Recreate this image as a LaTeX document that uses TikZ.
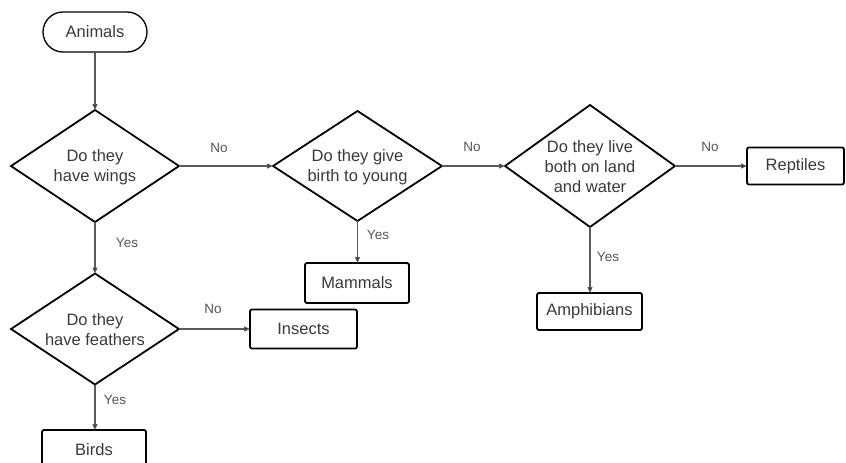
\documentclass[tikz,border=0pt]{standalone}
\usepackage{fontspec}
\setmainfont{Liberation Sans}
\usetikzlibrary{shapes.geometric,arrows.meta}
\definecolor{txt}{HTML}{3A3A3A}
\definecolor{lbl}{HTML}{555555}
\definecolor{conn}{HTML}{5A5A5A}
\begin{document}
\begin{tikzpicture}[x=1pt,y=-1pt,
  every node/.style={inner sep=0pt, outer sep=0pt},
  maintext/.style={font=\fontsize{16.5}{20}\selectfont, text=txt, align=center},
  lbltext/.style={font=\fontsize{13.5}{16}\selectfont, text=lbl},
  startbox/.style={draw=black, line width=1.3pt, rounded corners=20pt, fill=white,
    minimum width=104pt, minimum height=40pt, maintext},
  decision/.style={diamond, draw=black, line width=1.8pt, fill=white},
  leafbox/.style={draw=black, line width=1.8pt, rounded corners=2pt, fill=white, maintext},
  conn/.style={draw=conn, line width=1.2pt, -{Triangle[length=6pt,width=5pt,fill=black]}}
]
\useasboundingbox[fill=white] (0,0) rectangle (846,463);

% start
\node[startbox] (animals) at (95,32) {Animals};

% decisions (shapes)
\node[decision, minimum width=168pt, minimum height=112pt] (d1) at (95,166) {};
\node[decision, minimum width=169pt, minimum height=110pt] (d2) at (357.5,166) {};
\node[decision, minimum width=170pt, minimum height=122pt] (d3) at (590,166) {};
\node[decision, minimum width=168pt, minimum height=111pt] (d4) at (95,329) {};

% decision texts
\node[maintext] (d1t) at (95,167) {Do they\\have wings};
\node[maintext] (d2t) at (357.5,167) {Do they give\\birth to young};
\node[maintext] (d3t) at (590,167) {Do they live\\both on land\\and water};
\node[maintext] (d4t) at (95,330) {Do they\\have feathers};

% leaves
\node[leafbox, minimum width=104pt, minimum height=40pt] (mammals) at (357,283) {Mammals};
\node[leafbox, minimum width=105pt, minimum height=37pt] (amphib) at (589.5,311.5) {Amphibians};
\node[leafbox, minimum width=97pt, minimum height=37pt] (reptiles) at (795.5,166) {Reptiles};
\node[leafbox, minimum width=107pt, minimum height=39pt] (insects) at (303.5,329) {Insects};
\node[leafbox, minimum width=104pt, minimum height=40pt] (birds) at (94,450) {Birds};

% connectors
\draw[conn] (animals.south) -- (d1.north);
\draw[conn] (d1.east) -- (d2.west);
\draw[conn] (d2.east) -- (d3.west);
\draw[conn] (d3.east) -- (reptiles.west);
\draw[conn] (d1.south) -- (d4.north);
\draw[conn] (d2.south) -- (mammals.north -| d2.south);
\draw[conn] (d3.south) -- (amphib.north -| d3.south);
\draw[conn] (d4.east) -- (insects.west);
\draw[conn] (d4.south) -- (birds.north -| d4.south);

% labels
\node[lbltext] (l1) at (219,148) {No};
\node[lbltext] (l2) at (472,147) {No};
\node[lbltext] (l3) at (710,147) {No};
\node[lbltext] (l4) at (213,309) {No};
\node[lbltext] (l5) at (127,243) {Yes};
\node[lbltext] (l6) at (378,235) {Yes};
\node[lbltext] (l7) at (608,257) {Yes};
\node[lbltext] (l8) at (115,400) {Yes};
\end{tikzpicture}
\end{document}
